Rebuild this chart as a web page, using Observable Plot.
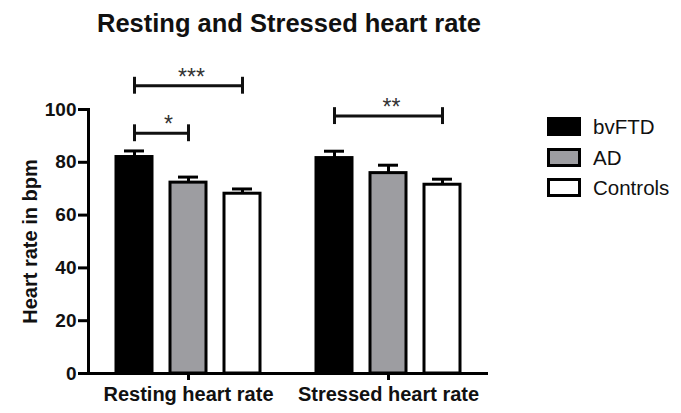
<!DOCTYPE html>
<html>
<head>
<meta charset="utf-8">
<script src="https://cdn.jsdelivr.net/npm/d3@7"></script>
<script src="https://cdn.jsdelivr.net/npm/@observablehq/plot@0.6"></script>
<style>
  body { margin: 0; background: #fff; font-family: "Liberation Sans", Arial, sans-serif; }
  #wrap { position: relative; width: 681px; height: 413px; overflow: hidden; background: #fff; }
  #plot { position: absolute; left: 0; top: 0; }
  #title { position: absolute; left: 0; top: 11px; width: 578px; text-align: center; font-weight: bold; font-size: 25.5px; line-height: 25px; color: #111; }
  .leg { position: absolute; left: 547px; height: 19px; display: flex; align-items: center; }
  .sw { box-sizing: border-box; width: 34px; height: 19px; border: 3px solid #000; margin-right: 12px; }
  .lt { font-size: 20.5px; color: #111; line-height: 19px; }
</style>
</head>
<body>
<div id="wrap">
  <div id="plot"></div>
  <div id="title">Resting and Stressed heart rate</div>
  <div id="legend"></div>
</div>
<script>
// ---- data ----
const groups = ["Resting heart rate", "Stressed heart rate"];
const series = ["bvFTD", "AD", "Controls"];
const seriesFill = ["#000000", "#9d9da1", "#ffffff"];
const restingMean = [82.0, 72.3, 68.1];
const restingSem = [2.3, 2.1, 1.8];
const stressedMean = [81.6, 75.9, 71.5];
const stressedSem = [2.6, 3.0, 2.1];
const sigGroup = ["Resting heart rate", "Resting heart rate", "Stressed heart rate"];
const sigFrom = ["bvFTD", "bvFTD", "bvFTD"];
const sigTo = ["Controls", "AD", "Controls"];
const sigLevel = [109, 91, 97.5];
const sigLabel = ["***", "*", "**"];
const yTicks = [0, 20, 40, 60, 80, 100];
const yLabel = "Heart rate in bpm";

// ---- tables ----
const bars = groups.flatMap((g, gi) => series.map((s, si) => {
  const mean = gi === 0 ? restingMean[si] : stressedMean[si];
  const sem = gi === 0 ? restingSem[si] : stressedSem[si];
  return {group: g, series: s, mean, top: mean + sem};
}));
const sig = sigGroup.map((g, i) => {
  const a = series.indexOf(sigFrom[i]), b = series.indexOf(sigTo[i]);
  const m = (a + b) / 2;
  return {group: g, from: sigFrom[i], to: sigTo[i], level: sigLevel[i], label: sigLabel[i],
          mid: Number.isInteger(m) ? series[m] : null};
});
const sigCentered = sig.filter(d => d.mid);
const sigAdjacent = sig.filter(d => !d.mid);

const font = "Liberation Sans, Arial, sans-serif";
const chart = Plot.plot({
  width: 681,
  height: 413,
  marginTop: 109,
  marginBottom: 40,
  marginLeft: 87,
  marginRight: 193,
  style: {fontFamily: font, color: "#111", background: "transparent", overflow: "visible"},
  fx: {domain: groups, padding: 0, label: null},
  x: {domain: series, paddingInner: 0.34, paddingOuter: 0.51, axis: null},
  y: {domain: [0, 100], axis: null},
  color: {domain: series, range: seriesFill},
  marks: [
    Plot.barY(bars, {fx: "group", x: "series", y: "mean", fill: "series", stroke: "#000", strokeWidth: 3}),
    Plot.ruleX(bars, {fx: "group", x: "series", y1: "mean", y2: "top", stroke: "#000", strokeWidth: 3}),
    Plot.tickY(bars, {fx: "group", x: "series", y: "top", stroke: "#000", strokeWidth: 3, insetLeft: 8, insetRight: 8}),
    Plot.ruleY([0], {stroke: "#000", strokeWidth: 3}),
    Plot.frame({anchor: "left", facetAnchor: "left", stroke: "#000", strokeWidth: 3}),
    Plot.axisY({ticks: yTicks, tickSize: 10, tickPadding: 2, fontSize: 19, fontWeight: "bold", stroke: "#000", strokeWidth: 3, label: null}),
    Plot.axisFx({anchor: "bottom", tickSize: 7, tickPadding: 6, fontSize: 20, fontWeight: "bold", stroke: "#000", strokeWidth: 3, label: null}),
    Plot.text([yLabel], {text: d => d, frameAnchor: "left", textAnchor: "middle", rotate: -90, dx: -58, fontSize: 20, fontWeight: "bold", facetAnchor: "left"}),
    // significance brackets
    Plot.link(sig, {fx: "group", x1: "from", x2: "to", y1: "level", y2: "level", stroke: "#111", strokeWidth: 3}),
    Plot.ruleX(sig, {fx: "group", x: "from", y1: d => d.level - 3.2, y2: d => d.level + 3.2, stroke: "#111", strokeWidth: 3}),
    Plot.ruleX(sig, {fx: "group", x: "to", y1: d => d.level - 3.2, y2: d => d.level + 3.2, stroke: "#111", strokeWidth: 3}),
    Plot.text(sigCentered, {fx: "group", x: "mid", y: "level", text: "label", dx: 3, dy: -1, lineAnchor: "bottom", fontSize: 23, fill: "#333"}),
    Plot.text(sigAdjacent, {fx: "group", x: "from", y: "level", text: "label", dx: 34, dy: -1, lineAnchor: "bottom", fontSize: 23, fill: "#333"})
  ]
});
document.getElementById("plot").appendChild(chart);

// legend
const legend = document.getElementById("legend");
const legendTops = [117, 148, 178];
series.forEach((s, i) => {
  const row = document.createElement("div");
  row.className = "leg";
  row.style.top = legendTops[i] + "px";
  const sw = document.createElement("div");
  sw.className = "sw";
  sw.style.background = seriesFill[i];
  const t = document.createElement("span");
  t.className = "lt";
  t.textContent = s;
  row.appendChild(sw);
  row.appendChild(t);
  legend.appendChild(row);
});
</script>
</body>
</html>
